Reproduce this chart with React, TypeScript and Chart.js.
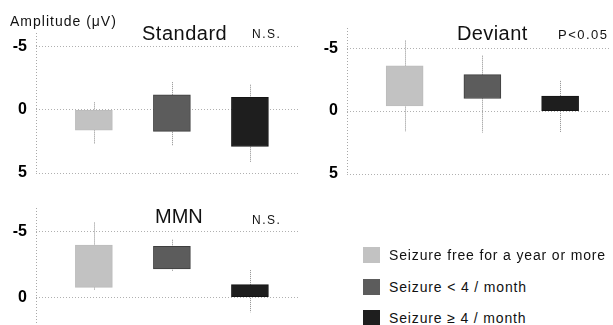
import React, { useEffect, useRef } from "react";
import { Chart, registerables } from "chart.js";

Chart.register(...registerables);

// ---- data ----
const groups = ["Seizure free for a year or more", "Seizure < 4 / month", "Seizure ≥ 4 / month"];
const groupPositions = [0, 1, 2];
const groupColors = ["#c2c2c2", "#5c5c5c", "#1e1e1e"];
const groupBorders = ["#bcbcbc", "#3e3e3e", "#141414"];

const standardBoxes: [number, number][] = [[0, 1.6], [-1.2, 1.7], [-1.0, 2.9]];
const standardWhiskers: [number, number][] = [[-0.6, 2.7], [-2.2, 2.8], [-2.0, 4.1]];
const deviantBoxes: [number, number][] = [[-3.6, -0.4], [-2.9, -1.0], [-1.2, 0]];
const deviantWhiskers: [number, number][] = [[-5.6, 1.6], [-4.4, 1.7], [-2.4, 1.7]];
const mmnBoxes: [number, number][] = [[-4.0, -0.8], [-3.9, -2.2], [-1.0, -0.1]];
const mmnWhiskers: [number, number][] = [[-5.7, -0.6], [-4.4, -2.0], [-2.1, 1.1]];

const ticksFull = [-5, 0, 5];
const ticksMmn = [-5, 0];

const panelTitles = ["Standard", "Deviant", "MMN"];
const panelStats = ["N.S.", "P<0.05", "N.S."];
const yAxisTitle = "Amplitude (μV)";

const FONT = "'Liberation Sans', Arial, Helvetica, sans-serif";

type PanelProps = {
  boxes: [number, number][];
  whiskers: [number, number][];
  ticks: number[];
  yMin: number;
  yMax: number;
  left: number;
  top: number;
  width: number;
  height: number;
  padTop: number;
  padBottom: number;
  padRight: number;
};

function Panel(p: PanelProps) {
  const ref = useRef<HTMLCanvasElement | null>(null);
  useEffect(() => {
    if (!ref.current) return;
    const whiskerPlugin = {
      id: "whiskers",
      beforeDatasetsDraw(chart: any) {
        const meta = chart.getDatasetMeta(0);
        const ys = chart.scales.y;
        const ctx = chart.ctx;
        const area = chart.chartArea;
        ctx.save();
        // dotted y-axis line
        ctx.strokeStyle = "#a8a8a8";
        ctx.lineWidth = 1;
        ctx.setLineDash([1, 2]);
        const ax = Math.round(area.left) + 0.5;
        ctx.beginPath();
        ctx.moveTo(ax, area.top);
        ctx.lineTo(ax, area.bottom);
        ctx.stroke();
        // whiskers
        ctx.strokeStyle = "#8c8c8c";
        ctx.setLineDash([1, 1]);
        p.whiskers.forEach(([lo, hi], i) => {
          const el = meta.data[i];
          if (!el) return;
          const x = Math.round(el.x) + 0.5;
          ctx.beginPath();
          ctx.moveTo(x, ys.getPixelForValue(lo));
          ctx.lineTo(x, ys.getPixelForValue(hi));
          ctx.stroke();
        });
        ctx.restore();
      },
    };
    const chart = new Chart(ref.current, {
      type: "bar",
      data: {
        datasets: [
          {
            label: "groups",
            data: groupPositions.map((x, i) => ({ x, y: p.boxes[i] })) as any,
            backgroundColor: groupColors,
            borderColor: groupBorders,
            borderWidth: 1,
            borderSkipped: false,
            barThickness: 37,
          },
        ],
      },
      options: {
        responsive: false,
        animation: false,
        events: [],
        layout: { padding: { left: 0, top: p.padTop, right: p.padRight, bottom: p.padBottom } },
        plugins: { legend: { display: false }, tooltip: { enabled: false } },
        scales: {
          x: { type: "linear", display: false, min: -0.5, max: 2.4 },
          y: {
            type: "linear",
            reverse: true,
            min: p.yMin,
            max: p.yMax,
            afterBuildTicks: (s: any) => {
              s.ticks = p.ticks.map((v) => ({ value: v }));
            },
            afterFit: (s: any) => {
              s.width = 36;
              s.paddingTop = 0;
              s.paddingBottom = 0;
            },
            ticks: {
              font: { family: FONT, size: 16, weight: "bold" },
              color: "#000",
              padding: 9,
            },
            grid: { color: "#b0b0b0", drawTicks: false, lineWidth: 1 },
            border: { display: false, color: "#b0b0b0", dash: [1, 2] },
          },
        },
      } as any,
      plugins: [whiskerPlugin],
    });
    return () => chart.destroy();
  }, []);
  return (
    <canvas
      ref={ref}
      width={p.width}
      height={p.height}
      style={{ position: "absolute", left: p.left, top: p.top, width: p.width, height: p.height }}
    />
  );
}

function Label(props: { text: string; x: number; y: number; size: number; spacing?: number; weight?: string }) {
  return (
    <div
      style={{
        position: "absolute",
        left: props.x,
        top: props.y,
        transform: "translateY(-50%)",
        fontFamily: FONT,
        fontSize: props.size,
        letterSpacing: props.spacing ?? 0,
        fontWeight: props.weight ?? "normal",
        lineHeight: 1,
        whiteSpace: "nowrap",
        color: "#111",
      }}
    >
      {props.text}
    </div>
  );
}

export default function App() {
  return (
    <div
      style={{
        position: "fixed",
        left: 0,
        top: 0,
        width: 613,
        height: 325,
        overflow: "hidden",
        background: "#fff",
      }}
    >
      <Panel boxes={standardBoxes} whiskers={standardWhiskers} ticks={ticksFull} yMin={-6.1} yMax={5}
        left={0} top={0} width={310} height={185} padTop={33} padBottom={12} padRight={10} />
      <Panel boxes={deviantBoxes} whiskers={deviantWhiskers} ticks={ticksFull} yMin={-6.6} yMax={5}
        left={311} top={0} width={302} height={185} padTop={28} padBottom={11} padRight={3} />
      <Panel boxes={mmnBoxes} whiskers={mmnWhiskers} ticks={ticksMmn} yMin={-6.8} yMax={1.9}
        left={0} top={185} width={310} height={140} padTop={23} padBottom={2} padRight={10} />

      <Label text={yAxisTitle} x={10} y={21} size={14} spacing={1.0} />
      <Label text={panelTitles[0]} x={142} y={33} size={20} spacing={0.5} />
      <Label text={panelStats[0]} x={252} y={34} size={12} spacing={1.5} />
      <Label text={panelTitles[1]} x={457} y={33} size={20} spacing={0.4} />
      <Label text={panelStats[1]} x={558} y={34} size={13} spacing={1.5} />
      <Label text={panelTitles[2]} x={155} y={216} size={20} />
      <Label text={panelStats[2]} x={252} y={220} size={12} spacing={1.5} />

      {groups.map((g, i) => (
        <React.Fragment key={g}>
          <div
            style={{
              position: "absolute",
              left: 363,
              top: 247 + i * 31.5,
              width: 17,
              height: 16,
              background: groupColors[i],
            }}
          />
          <Label text={g} x={389} y={255 + i * 31.5} size={14} spacing={0.85} />
        </React.Fragment>
      ))}
    </div>
  );
}
